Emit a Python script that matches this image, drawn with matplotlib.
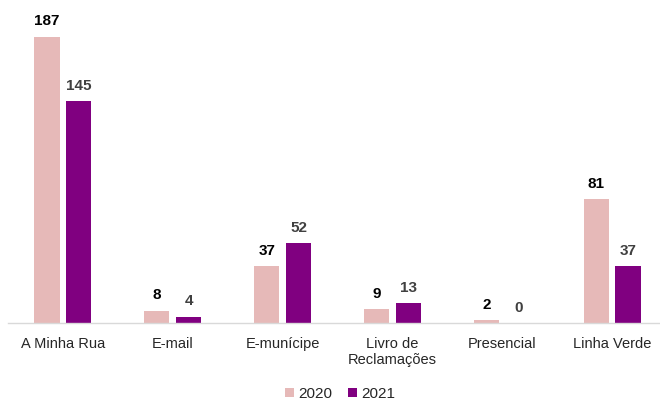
import matplotlib.pyplot as plt
import numpy as np

plt.rcParams['font.family'] = ['Liberation Sans', 'DejaVu Sans']

categories = ['A Minha Rua', 'E-mail', 'E-munícipe', 'Livro de\nReclamações', 'Presencial', 'Linha Verde']
vals_2020 = [187, 8, 37, 9, 2, 81]
vals_2021 = [145, 4, 52, 13, 0, 37]

fig = plt.figure(figsize=(6.6, 4.01), dpi=100)
ax = fig.add_axes([8 / 660, 1 - 323 / 401, 659 / 660, (323 - 17) / 401])

x = np.arange(len(categories))
w = 0.23
off = 0.145
b1 = ax.bar(x - off, vals_2020, w, color='#E6B9B8', label='2020')
b2 = ax.bar(x + off, vals_2021, w, color='#800080', label='2021')

for rect, v in zip(b1, vals_2020):
    ax.text(rect.get_x() + rect.get_width() / 2, v + 5.5, str(v), ha='center', va='bottom',
            fontsize=11, fontweight='bold', color='black')
for rect, v in zip(b2, vals_2021):
    ax.text(rect.get_x() + rect.get_width() / 2, v + 5.5, str(v), ha='center', va='bottom',
            fontsize=11, fontweight='bold', color='#404040')

ax.set_xlim(-0.5, len(categories) - 0.5)
ax.set_ylim(0, 200)
ax.set_xticks(x)
ax.set_xticklabels(categories, fontsize=10.5, color='#262626', linespacing=1.15)
ax.tick_params(axis='x', length=0, pad=10)
ax.set_yticks([])
for s in ['top', 'right', 'left']:
    ax.spines[s].set_visible(False)
ax.spines['bottom'].set_color('#d9d9d9')
ax.spines['bottom'].set_linewidth(1)
ax.patch.set_visible(False)

fig.legend(loc='center', bbox_to_anchor=(340 / 660, 1 - 394 / 401), ncol=2, frameon=False,
           fontsize=11, handlelength=0.6, handleheight=0.6, handletextpad=0.3,
           columnspacing=1.0, labelcolor='#262626', borderpad=0)

fig.savefig('out.png', dpi=100)
